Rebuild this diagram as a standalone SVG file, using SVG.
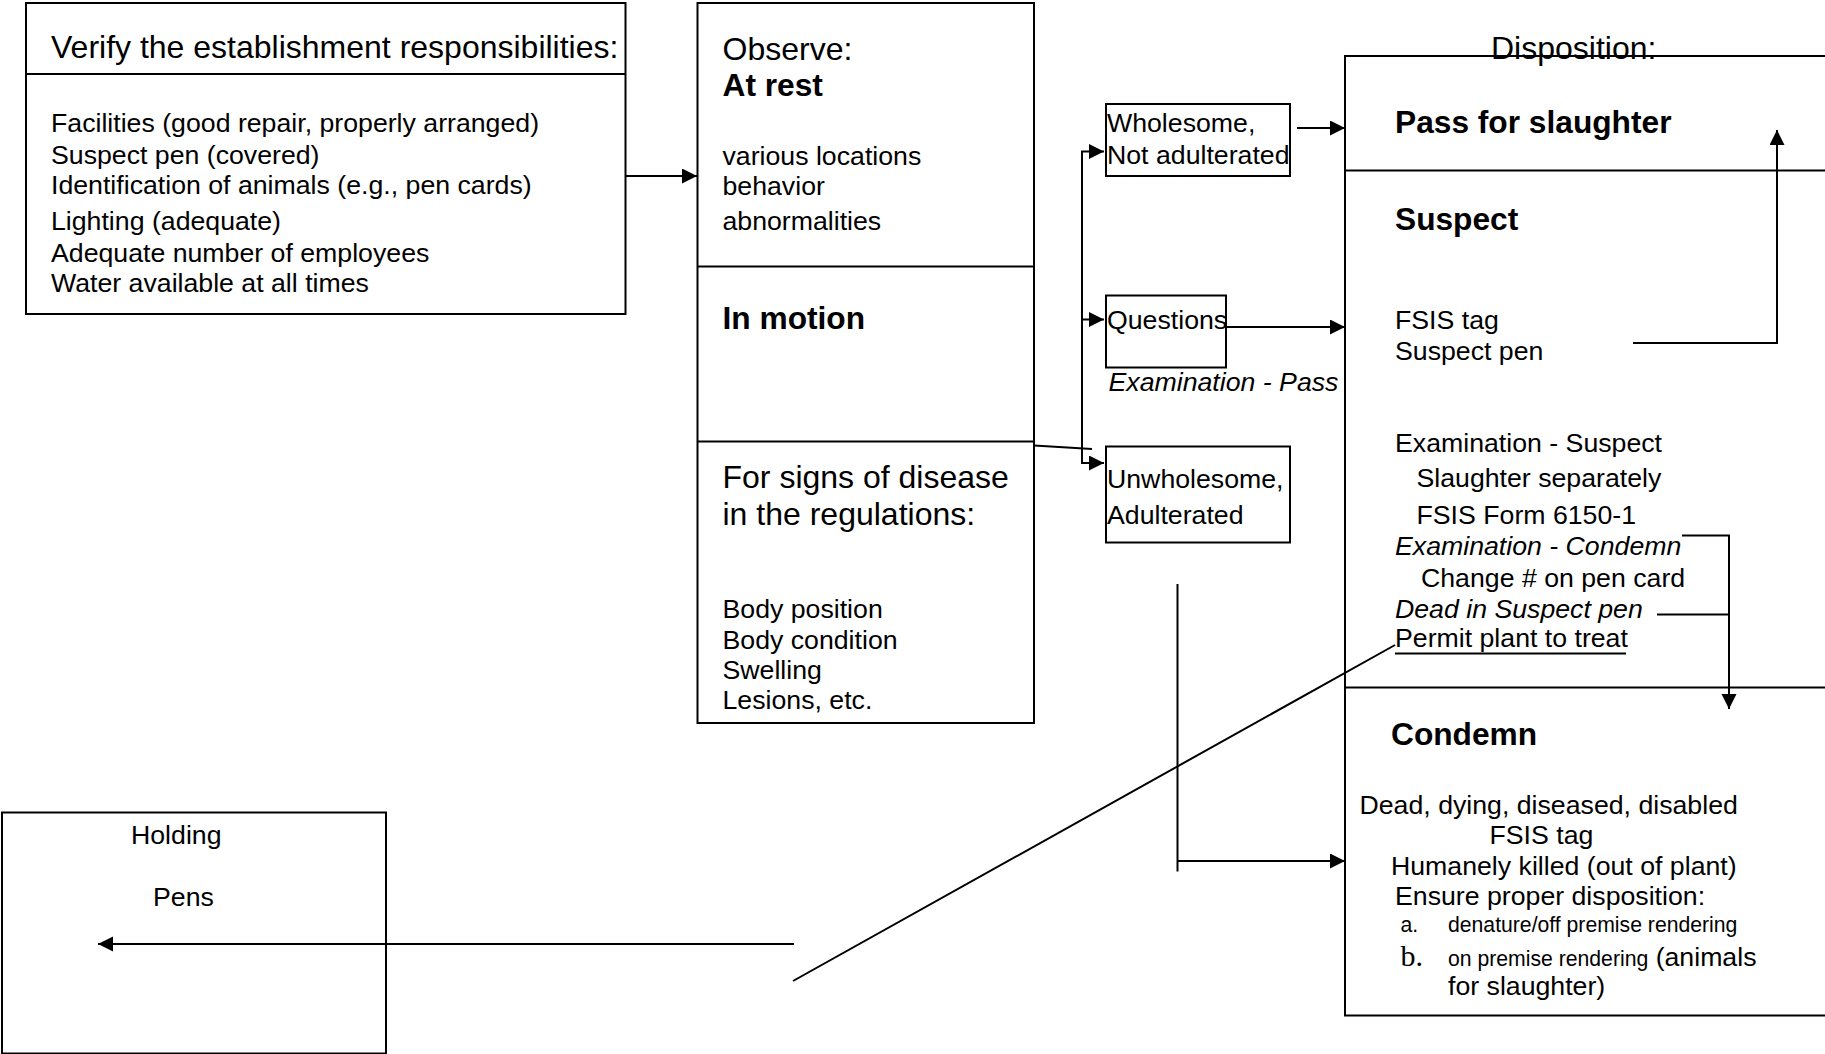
<svg xmlns="http://www.w3.org/2000/svg" width="1825" height="1054" viewBox="0 0 1825 1054">
<style>
  .box { fill: none; stroke: #000; stroke-width: 2; }
  .ln { fill: none; stroke: #000; stroke-width: 2; }
  text { font-family: "Liberation Sans", Arial, sans-serif; fill: #000; }
  .h { font-size: 32px; }
  .hb { font-size: 31.7px; font-weight: bold; }
  .b { font-size: 26.7px; }
  .i { font-size: 26.7px; font-style: italic; }
  .s { font-size: 21.2px; }
  .serif { font-family: "Liberation Serif", "Times New Roman", serif; font-size: 30px; }
</style>
<defs>
  <marker id="arr" markerUnits="userSpaceOnUse" markerWidth="16" markerHeight="16" refX="15" refY="7.5" orient="auto">
    <path d="M0,0 L15,7.5 L0,15 z" fill="#000"/>
  </marker>
</defs>
<rect width="1825" height="1054" fill="#fff"/>

<g id="verify">
  <rect class="box" x="26" y="3" width="599.5" height="311"/>
  <line class="ln" x1="26" y1="74" x2="625.5" y2="74"/>
  <text class="h" x="51" y="58">Verify the establishment responsibilities:</text>
  <text class="b" x="51" y="131.5">Facilities (good repair, properly arranged)</text>
  <text class="b" x="51" y="164">Suspect pen (covered)</text>
  <text class="b" x="51" y="194">Identification of animals (e.g., pen cards)</text>
  <text class="b" x="51" y="230">Lighting  (adequate)</text>
  <text class="b" x="51" y="261.5">Adequate number of employees</text>
  <text class="b" x="51" y="291.5">Water available at all times</text>
</g>

<g id="observe">
  <rect class="box" x="697.5" y="3" width="336.5" height="720"/>
  <line class="ln" x1="697.5" y1="266.5" x2="1034" y2="266.5"/>
  <line class="ln" x1="697.5" y1="441.5" x2="1034" y2="441.5"/>
  <text class="h" x="722.5" y="59.5">Observe:</text>
  <text class="hb" x="722.5" y="96">At rest</text>
  <text class="b" x="722.5" y="165">various locations</text>
  <text class="b" x="722.5" y="195">behavior</text>
  <text class="b" x="722.5" y="230">abnormalities</text>
  <text class="hb" x="722.5" y="329">In motion</text>
  <text class="h" x="722.5" y="488">For signs of disease</text>
  <text class="h" x="722.5" y="525">in the regulations:</text>
  <text class="b" x="722.5" y="618">Body position</text>
  <text class="b" x="722.5" y="648.5">Body condition</text>
  <text class="b" x="722.5" y="679">Swelling</text>
  <text class="b" x="722.5" y="709">Lesions, etc.</text>
</g>

<g id="wholesome">
  <rect class="box" x="1106" y="104" width="184" height="72"/>
  <text class="b" x="1107" y="131.5">Wholesome,</text>
  <text class="b" x="1107" y="164">Not adulterated</text>
</g>

<g id="questions">
  <rect class="box" x="1106" y="295.5" width="120" height="72"/>
  <text class="b" x="1107" y="328.5">Questions</text>
</g>

<g id="exam-pass">
  <text class="i" x="1108.5" y="391">Examination - Pass</text>
</g>

<g id="unwholesome">
  <rect class="box" x="1106" y="446.5" width="184" height="96"/>
  <text class="b" x="1107" y="487.5">Unwholesome,</text>
  <text class="b" x="1107" y="523.5">Adulterated</text>
</g>

<g id="disposition">
  <text class="h" x="1491" y="59">Disposition:</text>
  <rect class="box" x="1345" y="56" width="500" height="959.5"/>
  <line class="ln" x1="1345" y1="170.5" x2="1825" y2="170.5"/>
  <line class="ln" x1="1345" y1="687.5" x2="1825" y2="687.5"/>
  <text class="hb" x="1395" y="133">Pass for slaughter</text>
  <text class="hb" x="1395" y="229.5">Suspect</text>
  <text class="b" x="1395" y="328.5">FSIS tag</text>
  <text class="b" x="1395" y="360">Suspect pen</text>
  <text class="b" x="1395" y="451.5">Examination - Suspect</text>
  <text class="b" x="1416.5" y="486.5">Slaughter separately</text>
  <text class="b" x="1416.5" y="524">FSIS Form 6150-1</text>
  <text class="i" x="1395" y="555">Examination - Condemn</text>
  <text class="b" x="1421" y="586.5">Change # on pen card</text>
  <text class="i" x="1395" y="617.5">Dead in Suspect pen</text>
  <text class="b" x="1395" y="646.5">Permit plant to treat</text>
  <line class="ln" x1="1395" y1="653.5" x2="1626" y2="653.5"/>
  <text class="hb" x="1391" y="745">Condemn</text>
  <text class="b" x="1359.5" y="813.5">Dead, dying, diseased, disabled</text>
  <text class="b" x="1489.5" y="844">FSIS tag</text>
  <text class="b" x="1391" y="874.5">Humanely killed (out of plant)</text>
  <text class="b" x="1395" y="905">Ensure proper disposition:</text>
  <text class="s" x="1400.5" y="931.5">a.</text>
  <text class="s" x="1448" y="931.5">denature/off premise rendering</text>
  <text class="serif" x="1400.5" y="966">b.</text>
  <text x="1448" y="966"><tspan class="s">on premise rendering</tspan><tspan class="b"> (animals</tspan></text>
  <text class="b" x="1448" y="995">for slaughter)</text>
</g>

<g id="holding">
  <rect class="box" x="2" y="812.5" width="384" height="241"/>
  <text class="b" x="131" y="844">Holding</text>
  <text class="b" x="153" y="906">Pens</text>
</g>

<g id="connectors">
  <line class="ln" x1="626" y1="176" x2="697" y2="176" marker-end="url(#arr)"/>
  <line class="ln" x1="1034" y1="445.5" x2="1092" y2="449"/>
  <line class="ln" x1="1082" y1="151.5" x2="1082" y2="463"/>
  <line class="ln" x1="1081" y1="151.5" x2="1104" y2="151.5" marker-end="url(#arr)"/>
  <line class="ln" x1="1081" y1="319.5" x2="1104" y2="319.5" marker-end="url(#arr)"/>
  <line class="ln" x1="1081" y1="463" x2="1104" y2="463" marker-end="url(#arr)"/>
  <line class="ln" x1="1297" y1="128" x2="1345" y2="128" marker-end="url(#arr)"/>
  <line class="ln" x1="1226" y1="327" x2="1345" y2="327" stroke-width="2.5" marker-end="url(#arr)"/>
  <path class="ln" d="M1633,343 H1777 V130" marker-end="url(#arr)"/>
  <path class="ln" d="M1682,535.5 H1729 V709" marker-end="url(#arr)"/>
  <line class="ln" x1="1657" y1="614.5" x2="1729" y2="614.5"/>
  <line class="ln" x1="1177.5" y1="584" x2="1177.5" y2="871.5"/>
  <line class="ln" x1="1177.5" y1="861" x2="1345" y2="861" marker-end="url(#arr)"/>
  <line class="ln" x1="1395" y1="645" x2="793" y2="981"/>
  <line class="ln" x1="794" y1="944" x2="98" y2="944" marker-end="url(#arr)"/>
</g>
</svg>
